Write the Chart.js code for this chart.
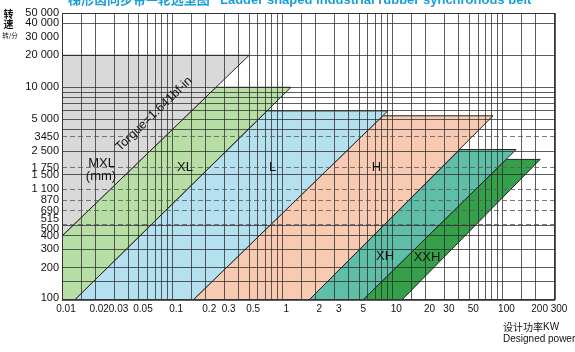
<!DOCTYPE html>
<html>
<head>
<meta charset="utf-8">
<script src="https://cdn.jsdelivr.net/npm/chart.js@4.4.1/dist/chart.umd.min.js"></script>
<style>
  html, body { margin: 0; padding: 0; background: #fff; }
  canvas { display: block; }
</style>
</head>
<body>
<canvas id="beltChart" width="575" height="352"></canvas>
<script>
// Belt selection chart: design power (kW) against speed (rpm)
const bandNames = ['MXL', 'XL', 'L', 'H', 'XH', 'XXH'];

// corners of each belt area as [kW, rpm]
const mxlArea = [[0.01, 20000], [0.5, 20000], [0.01, 400]];
const xlArea = [[0.01, 100], [0.01, 400], [0.25, 10000], [1.2, 10000], [0.013, 100]];
const lArea = [[0.013, 100], [0.73, 6000], [9.1, 6000], [0.155, 100]];
const hArea = [[0.155, 100], [8.2, 5400], [82, 5400], [1.75, 100]];
const xhArea = [[1.75, 100], [41, 2600], [133, 2600], [5.4, 100]];
const xxhArea = [[5.4, 100], [108, 2100], [220, 2100], [12.2, 100]];

// grid lines and tick labels
const xGrid = [
  0.01, 0.015, 0.02, 0.03, 0.04, 0.05, 0.06, 0.07, 0.08, 0.09,
  0.1, 0.15, 0.2, 0.3, 0.4, 0.5, 0.6, 0.7, 0.8, 0.9,
  1, 1.5, 2, 3, 4, 5, 6, 7, 8, 9,
  10, 15, 20, 30, 40, 50, 60, 70, 80, 90,
  100, 150, 200, 300
];
const xTickLabels = [0.01, 0.02, 0.03, 0.05, 0.1, 0.2, 0.3, 0.5, 1, 2, 3, 5, 10, 20, 30, 50, 100, 200, 300];
const yGrid = [100, 150, 200, 300, 400, 500, 1500, 2500, 4000, 5000, 6000, 7000, 8000, 9000, 10000, 20000, 40000, 50000];
const yDashed = [515, 690, 870, 1100, 1750, 3450];
const yTickValues = [50000, 40000, 30000, 20000, 10000, 5000, 3450, 2500, 1750, 1500, 1100, 870, 690, 515, 500, 400, 300, 200, 100];
const yTickLabels = ['50 000', '40 000', '30 000', '20 000', '10 000', '5 000', '3450', '2 500', '1 750', '1 500', '1 100', '870', '690', '515', '500', '400', '300', '200', '100'];

const areas = [mxlArea, xlArea, lArea, hArea, xhArea, xxhArea];
const fillColors = ['#d9d9d9', '#b7dea5', '#b4e0ef', '#f9cab2', '#5fbea8', '#34a049'];

// label nudges so 515 / 500 do not sit on each other
const labelShift = { 515: -5, 500: 3, 100: -2 };

const latin = '"Liberation Sans", Arial, sans-serif';
const cjk = '"Noto Sans CJK SC", sans-serif';

const textPlugin = {
  id: 'beltText',
  afterDraw(chart) {
    const { ctx, chartArea: a, scales: { y } } = chart;
    ctx.save();

    // frame round the plot
    ctx.strokeStyle = '#333';
    ctx.lineWidth = 1;
    ctx.strokeRect(Math.round(a.left) + 0.5, Math.round(a.top) + 0.5,
      Math.round(a.right - a.left) - 1, Math.round(a.bottom - a.top) - 1);

    // speed labels
    ctx.fillStyle = '#111';
    ctx.font = '11px ' + latin;
    ctx.textAlign = 'right';
    ctx.textBaseline = 'middle';
    yTickValues.forEach((v, i) => {
      ctx.fillText(yTickLabels[i], 59, y.getPixelForValue(v) + (labelShift[v] || 0));
    });

    // belt names
    ctx.textAlign = 'center';
    ctx.font = '13px ' + latin;
    ctx.fillStyle = '#111';
    const spots = [[101.5, 163.5], [185, 167], [272.5, 167], [376.5, 167.5], [385, 256], [427, 257]];
    bandNames.forEach((n, i) => ctx.fillText(n, spots[i][0], spots[i][1]));
    ctx.fillText('(mm)', 101, 176);

    ctx.save();
    ctx.translate(154, 114);
    ctx.rotate(-44 * Math.PI / 180);
    ctx.font = '12.5px ' + latin;
    ctx.fillText('Torgue=1.641bf-in', 0, 0);
    ctx.restore();

    // axis titles
    ctx.font = 'bold 10px ' + cjk;
    ctx.fillText('转', 8.5, 14);
    ctx.fillText('速', 8.5, 24);
    ctx.font = '6.5px ' + cjk;
    ctx.fillText('转/分', 10, 36);

    ctx.textAlign = 'left';
    ctx.font = '10px ' + cjk;
    ctx.fillText('设计功率', 503, 327.5);
    ctx.font = '10px ' + latin;
    ctx.fillText('KW', 543, 327.5);
    ctx.fillText('Designed power', 503, 339.5);

    // cut-off title at the top
    ctx.fillStyle = '#1b9fd8';
    ctx.textBaseline = 'alphabetic';
    ctx.font = 'bold 13px ' + cjk;
    ctx.fillText('梯形齿同步带—轮选型图', 68, 4);
    ctx.font = 'bold 13px ' + latin;
    ctx.fillText('Ladder shaped industrial rubber synchronous belt', 220, 4);

    ctx.restore();
  }
};

const datasets = areas.map((area, i) => ({
  label: bandNames[i],
  data: area.map(p => ({ x: p[0], y: p[1] })),
  backgroundColor: fillColors[i],
  borderColor: '#222',
  borderWidth: 1,
  pointRadius: 0,
  tension: 0,
  fill: 'shape'
}));

new Chart(document.getElementById('beltChart'), {
  type: 'line',
  data: { datasets: datasets },
  options: {
    responsive: false,
    animation: false,
    events: [],
    layout: { padding: { top: 13, right: 20, left: 0, bottom: 0 } },
    plugins: {
      legend: { display: false },
      tooltip: { enabled: false },
      title: { display: false }
    },
    scales: {
      x: {
        type: 'logarithmic',
        min: 0.01,
        max: 300,
        afterBuildTicks: s => { s.ticks = xGrid.map(v => ({ value: v })); },
        afterFit: s => { s.height = 52; },
        border: { display: false },
        grid: { color: 'rgba(40,40,40,0.75)', lineWidth: 1, drawTicks: false, z: 1 },
        ticks: {
          autoSkip: false,
          maxRotation: 0,
          padding: 3,
          labelOffset: 4,
          color: '#111',
          font: { family: latin, size: 10 },
          callback: v => xTickLabels.includes(v) ? String(v) : ''
        }
      },
      y: {
        type: 'logarithmic',
        min: 100,
        max: 50000,
        afterBuildTicks: s => { s.ticks = yGrid.concat(yDashed).sort((a, b) => a - b).map(v => ({ value: v })); },
        afterFit: s => { s.width = 62; },
        border: {
          display: false,
          dash: c => (c.tick && yDashed.includes(c.tick.value)) ? [5, 3] : []
        },
        grid: {
          color: c => (c.tick && yDashed.includes(c.tick.value)) ? 'rgba(90,90,90,0.8)' : 'rgba(40,40,40,0.75)',
          lineWidth: 1,
          drawTicks: false,
          z: 1
        },
        ticks: { display: false }
      }
    }
  },
  plugins: [textPlugin]
});
</script>
</body>
</html>
